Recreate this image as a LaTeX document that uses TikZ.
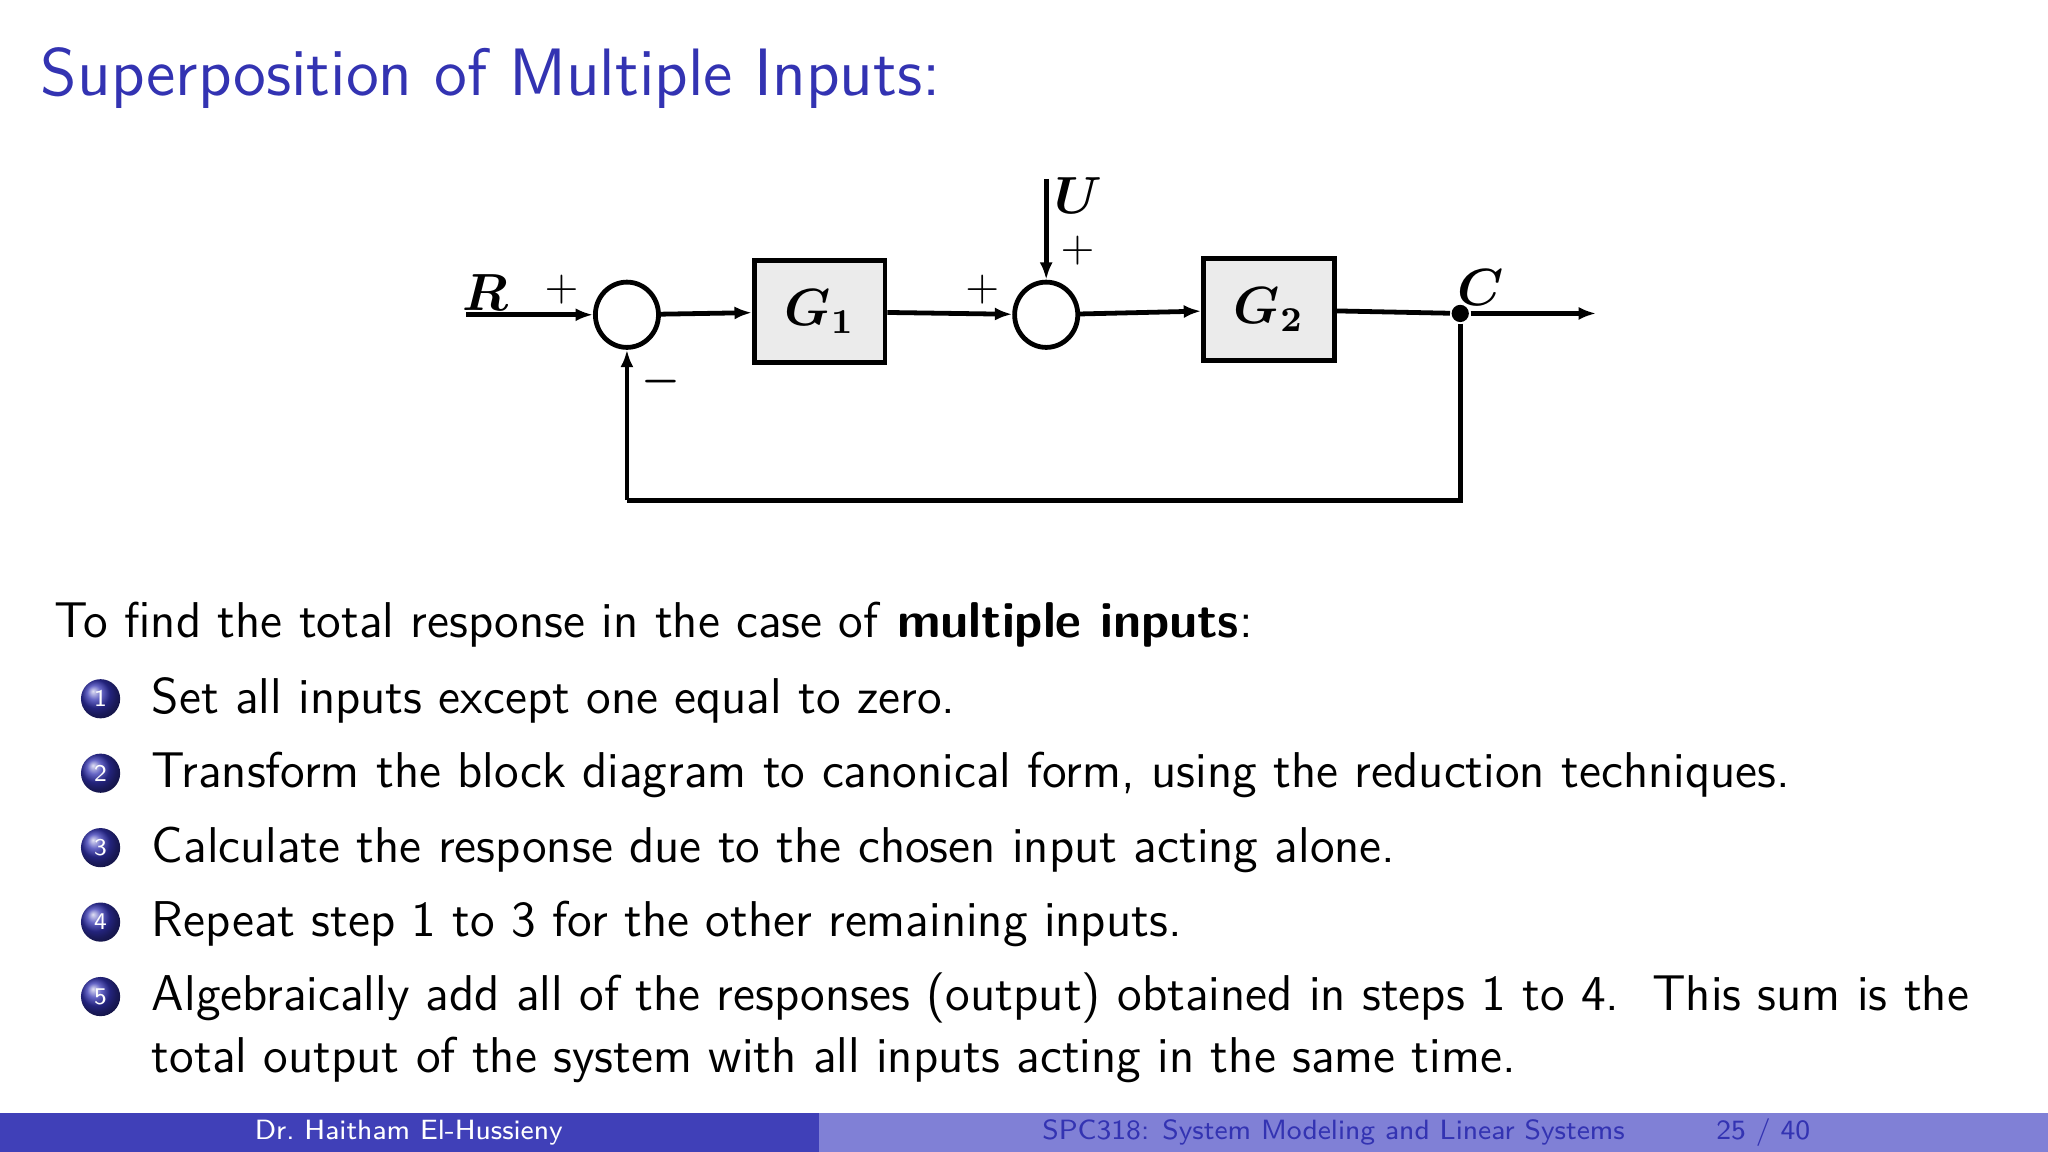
\documentclass[tikz,border=0pt]{standalone}
\usepackage{amsmath}
\usetikzlibrary{arrows.meta,shapes.geometric}
\definecolor{beamblue}{RGB}{51,51,178}
\definecolor{footdark}{RGB}{64,64,184}
\definecolor{footlight}{RGB}{128,128,214}
\tikzset{every picture/.style={line width=0.75pt},
  sig/.style={line width=1.1pt,-{Latex[length=4pt,width=3pt]}},
  wire/.style={line width=1.1pt},
  sumj/.style={draw,line width=1.1pt,ellipse,minimum width=14.5pt,minimum height=15pt,inner sep=0pt},
  blk/.style={draw,line width=1.1pt,fill=black!8,minimum width=30pt,minimum height=23.5pt},
  ball/.style={circle,shading=ball,ball color=beamblue,text=white,inner sep=0pt,minimum size=9pt,font=\fontsize{5.5}{5.5}\selectfont\sffamily},
  body/.style={anchor=base west,font=\fontsize{11.55}{13}\selectfont\sffamily}}

\begin{document}
\begin{tikzpicture}[x=0.3pt,y=0.3pt,yscale=-1,xscale=1,font=\sffamily]
		\useasboundingbox (0,0) rectangle (1568,882);
		
		% Title
		\node[anchor=base west,text=beamblue,font=\fontsize{15.4}{18}\selectfont\sffamily] (title) at (19,73) {Superposition of Multiple Inputs:};
		
		% Block diagram
		\coordinate (rin) at (357,241);
		\node[sumj] (s1) at (480,241) {};
		\node[blk] (g1) at (627.5,238.5) {\large$\boldsymbol{G_1}$};
		\node[sumj] (s2) at (801,241) {};
		\node[blk] (g2) at (971.5,237) {\large$\boldsymbol{G_2}$};
		\coordinate (uin) at (801,137);
		\node[circle,fill,inner sep=1.4pt] (tap) at (1118,240) {};
		\coordinate (cout) at (1222,240);
		\coordinate (fbr) at (1120,383);
		\coordinate (fbl) at (480,383);
		
		\draw[sig] (rin) -- (s1);
		\draw[sig] (s1) -- (g1);
		\draw[sig] (g1) -- (s2);
		\draw[sig] (uin) -- (s2);
		\draw[sig] (s2) -- (g2);
		\draw[wire] (g2) -- (tap);
		\draw[sig] (tap) -- (cout);
		\draw[wire] (tap) |- (fbr) -- (fbl);
		\draw[sig] (fbl) -- (s1);
		
		% Text Node
		\node (lr) at (372,224) {\large$\boldsymbol{R}$};
		\node (p1) at (430,222) {$+$};
		\node (m1) at (506,292) {$\boldsymbol{-}$};
		\node (p2) at (752,222) {$+$};
		\node (p3) at (825,192) {$+$};
		\node (lu) at (826,150) {\large$\boldsymbol{U}$};
		\node (lc) at (1134,220) {\large$\boldsymbol{C}$};
		
		% Steps
		\node[body] (intro) at (29,488) {To find the total response in the case of \textbf{multiple inputs}:};
		\foreach \n/\yy/\txt in {1/546/{Set all inputs except one equal to zero.},
		    2/603/{Transform the block diagram to canonical form, using the reduction techniques.},
		    3/660/{Calculate the response due to the chosen input acting alone.},
		    4/717/{Repeat step 1 to 3 for the other remaining inputs.},
		    5/774/{Algebraically add all of the responses (output) obtained in steps 1 to 4.\ \ This sum is the}}{
		  \node[ball] (b\n) at (77,\yy-11) {\n};
		  \node[body] (t\n) at (104,\yy) {\txt};
		}
		\node[body] (t5b) at (104,821) {total output of the system with all inputs acting in the same time.};
		
		% Footer
		\fill[footdark] (0,852) rectangle (627,882);
		\fill[footlight] (627,852) rectangle (1568,882);
		\node[text=white,font=\fontsize{6.4}{7}\selectfont\sffamily] (fa) at (313,867) {Dr.\ Haitham El-Hussieny};
		\node[text=beamblue,font=\fontsize{6.4}{7}\selectfont\sffamily] (fb) at (1021,867) {SPC318: System Modeling and Linear Systems};
		\node[text=beamblue,font=\fontsize{6.4}{7}\selectfont\sffamily] (fc) at (1350,867) {25 / 40};
		
\end{tikzpicture}
\end{document}
